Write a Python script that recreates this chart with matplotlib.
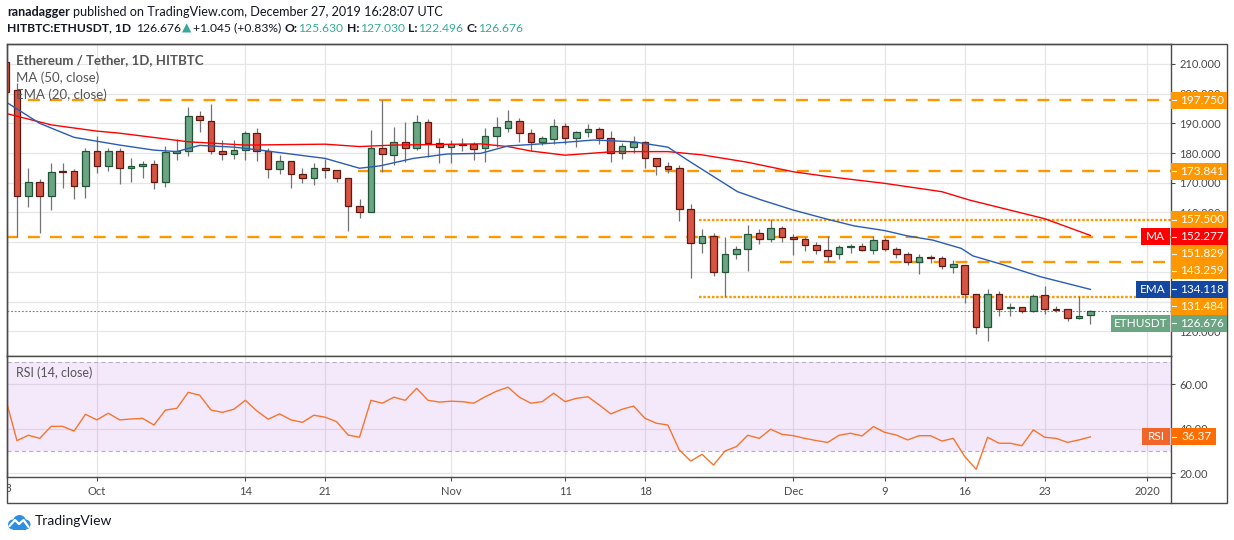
import matplotlib
matplotlib.use('Agg')
import matplotlib.pyplot as plt
from matplotlib.patches import Rectangle, Circle
from matplotlib.lines import Line2D
import numpy as np

plt.rcParams['font.family'] = ['Lato', 'DejaVu Sans']
plt.rcParams['lines.scale_dashes'] = False

W, H = 1234, 540

# ---- price data (daily candles, day 0 = Sep 23 2019) ----
opens = [210.8, 201.2, 165.7, 170.2, 165.7, 174.0, 174.0, 169.0, 180.7, 175.8,
         180.7, 174.9, 175.7, 176.2, 170.2, 180.0, 180.7, 192.6, 190.9, 180.6,
         179.6, 180.9, 186.7, 180.6, 174.5, 177.3, 172.8, 171.7, 175.1, 174.3,
         171.5, 162.3, 160.3, 181.6, 179.4, 183.8, 181.6, 190.4, 183.3, 182.2,
         183.0, 183.0, 181.6, 185.8, 188.4, 190.9, 186.7, 183.6, 184.6, 189.1,
         185.0, 187.0, 188.0, 185.0, 179.9, 182.2, 183.6, 178.3, 175.8, 174.9,
         161.1, 149.6, 152.0, 140.1, 145.9, 147.6, 153.0, 151.0, 154.7, 151.7,
         151.0, 149.0, 147.3, 145.9, 148.3, 148.7, 147.3, 150.7, 147.6, 145.9,
         143.4, 145.0, 144.7, 141.7, 142.3, 132.6, 121.6, 132.6, 127.7, 128.1,
         126.7, 132.2, 127.5, 127.4, 124.6, 125.630]
highs = [213.0, 203.5, 175.1, 171.3, 176.6, 176.6, 174.7, 181.6, 185.9, 181.6,
         181.6, 178.4, 177.2, 177.7, 182.5, 184.8, 195.6, 194.2, 196.4, 184.4,
         184.4, 187.5, 188.6, 181.6, 179.3, 177.3, 175.0, 176.6, 178.1, 174.3,
         171.5, 164.4, 187.8, 197.9, 188.9, 190.5, 192.8, 191.6, 185.0, 184.4,
         185.2, 183.9, 188.4, 192.3, 194.5, 191.7, 188.0, 185.6, 191.6, 190.2,
         187.5, 189.9, 188.7, 187.3, 183.5, 185.8, 184.1, 178.3, 177.1, 176.0,
         162.9, 154.4, 153.0, 151.6, 148.8, 155.8, 154.4, 157.7, 155.4, 152.7,
         151.7, 150.1, 152.1, 149.1, 149.5, 149.6, 152.1, 151.4, 148.3, 146.6,
         146.1, 145.7, 145.2, 143.9, 142.3, 132.6, 134.2, 133.6, 129.4, 128.2,
         132.6, 135.1, 128.5, 127.4, 131.9, 127.030]
lows = [199.5, 151.9, 162.0, 153.1, 160.8, 168.2, 164.4, 165.0, 173.3, 173.9,
        169.5, 170.2, 171.5, 167.8, 168.7, 177.7, 179.0, 187.0, 179.6, 177.7,
        178.0, 177.7, 177.3, 171.7, 172.8, 168.4, 169.8, 169.3, 171.7, 170.4,
        153.8, 158.0, 160.3, 173.7, 176.0, 177.0, 181.0, 178.8, 176.8, 176.6,
        180.7, 177.8, 177.0, 182.0, 187.2, 183.8, 180.6, 182.7, 182.9, 182.9,
        182.0, 185.3, 182.9, 177.1, 178.0, 179.9, 174.9, 172.7, 173.3, 157.2,
        138.1, 146.3, 138.7, 131.7, 144.3, 140.4, 149.4, 150.2, 149.9, 145.7,
        146.9, 146.1, 143.4, 144.3, 146.3, 146.9, 146.1, 146.9, 144.6, 142.3,
        139.4, 143.1, 141.0, 139.6, 129.4, 119.1, 116.8, 125.1, 125.1, 126.2,
        126.4, 125.7, 126.4, 123.4, 124.0, 122.496]
closes = [200.7, 165.7, 170.2, 165.7, 173.5, 173.5, 169.0, 180.7, 175.8, 180.7,
          175.0, 175.5, 176.3, 170.2, 180.3, 180.6, 192.6, 191.1, 180.6, 179.6,
          180.9, 186.7, 180.6, 174.5, 177.3, 172.8, 171.7, 175.1, 174.4, 171.5,
          162.3, 160.3, 181.6, 179.6, 183.6, 181.6, 190.4, 183.3, 182.2, 182.9,
          182.8, 181.3, 185.8, 188.7, 190.9, 186.7, 183.6, 185.0, 189.1, 185.0,
          187.0, 188.1, 185.0, 179.9, 182.4, 183.6, 178.3, 175.8, 174.5, 161.1,
          149.6, 152.0, 140.1, 145.9, 147.6, 152.7, 151.0, 154.7, 151.7, 151.0,
          149.0, 147.3, 145.5, 148.3, 148.7, 147.3, 150.7, 147.6, 145.9, 143.4,
          144.9, 144.8, 141.9, 142.7, 132.6, 121.6, 132.6, 127.6, 127.9, 126.7,
          131.9, 127.4, 127.3, 124.5, 125.2, 126.676]
days = np.arange(len(closes))

# moving averages
ma_days = [0, 4, 8, 10, 16, 21, 28, 31, 34, 41.6, 44, 46, 49, 53.3, 58, 61, 65,
           69, 72, 77, 82, 84.4, 91, 95]
ma_vals = [193.4, 189.5, 187.4, 186.7, 183.8, 182.7, 183.0, 182.2, 182.7, 183.1,
           182.2, 180.7, 179.3, 180.5, 180.5, 179.4, 176.9, 173.7, 172.1, 169.8,
           167.0, 164.2, 157.9, 152.277]
ema_days = [0, 3, 6, 10, 13, 15, 17, 20, 22.3, 28, 31, 32.8, 35.7, 38.7, 41.6, 44,
            48.9, 51.5, 55, 58, 59.7, 62, 64.1, 66.2, 69, 72, 74.3, 77, 79, 81.2,
            83.7, 84.7, 87.1, 90.6, 95]
ema_vals = [197.3, 190.0, 185.3, 182.7, 181.0, 180.5, 182.6, 182.0, 181.0, 178.2,
            174.9, 175.7, 178.2, 179.7, 179.9, 182.4, 183.6, 184.4, 183.8, 182.0,
            177.7, 172.1, 167.0, 164.2, 160.8, 157.7, 155.5, 153.9, 152.1, 150.7,
            147.9, 145.4, 142.7, 138.4, 134.118]

rsi = [53.7, 34.7, 37.1, 35.7, 41.1, 41.1, 39.0, 46.5, 44.0, 47.0,
       44.0, 44.4, 44.7, 41.7, 48.4, 49.2, 56.4, 55.1, 48.4, 47.4,
       48.8, 52.8, 48.1, 44.3, 46.7, 44.0, 42.9, 46.1, 45.2, 43.2,
       37.2, 36.2, 52.8, 51.5, 54.2, 52.8, 58.2, 52.8, 52.0, 52.4,
       52.2, 51.5, 54.4, 56.9, 58.7, 54.2, 51.5, 52.2, 56.0, 52.2,
       53.7, 54.4, 50.7, 46.7, 48.8, 50.2, 44.7, 42.5, 41.7, 30.5,
       25.5, 28.5, 23.7, 30.0, 32.0, 37.1, 35.7, 39.8, 37.5, 36.9,
       35.7, 34.7, 33.9, 37.1, 38.0, 36.8, 41.0, 38.4, 37.2, 35.0,
       36.9, 36.9, 34.5, 35.7, 27.5, 21.8, 36.2, 33.5, 33.5, 32.4,
       39.5, 36.2, 35.7, 33.9, 35.0, 36.37]

# horizontal levels drawn on the chart
level_prices = [197.750, 173.841, 157.500, 151.829, 143.259, 131.484]
level_starts = [2.0, 30.9, 60.75, 0.0, 67.8, 60.75]
level_dotted = [False, False, True, False, False, True]

date_ticks = [8, 21, 28, 39, 49, 56, 69, 77, 84, 91, 100]
date_labels = ['Oct', '14', '21', 'Nov', '11', '18', 'Dec', '9', '16', '23', '2020']
price_ticks = np.arange(120, 211, 10)
# tick labels fully hidden behind the level tags are left blank
price_hidden = [130, 140, 150]
rsi_ticks = [20, 40, 60]

last_price = 126.676

GREEN, GREEN_E = '#6BA583', '#225437'
RED, RED_E = '#D75442', '#5B1A13'
WICK = '#737375'
ORANGE = '#FF9800'
GRID = '#E6E6E6'
FRAME = '#4A4A4A'
TXT = '#4A4A4A'
TEAL = '#37A99A'


def fx(px):
    return px / W


def fy(py):
    return 1 - py / H


fig = plt.figure(figsize=(W / 100, H / 100), dpi=100)
ax = fig.add_axes([fx(7), fy(356), fx(1171) - fx(7), fy(44) - fy(356)])
rax = fig.add_axes([fx(7), fy(476.7), fx(1171) - fx(7), fy(356) - fy(476.7)], sharex=ax)

for a in (ax, rax):
    a.set_xlim(0.13, 102.06)
    a.yaxis.tick_right()
    for s in a.spines.values():
        s.set_color(FRAME)
        s.set_linewidth(1.0)
    for d in date_ticks:
        a.axvline(d, color=GRID, lw=0.9, zorder=0.5)
    a.tick_params(axis='y', direction='out', length=3, width=0.8, color=FRAME,
                  labelsize=8, labelcolor=TXT, pad=3)

ax.set_ylim(111.68, 216.73)
ax.set_yticks(price_ticks)
ax.set_yticklabels(['' if v in price_hidden else '%.3f' % v for v in price_ticks])
for v in price_ticks:
    ax.axhline(v, color=GRID, lw=0.9, zorder=0.5)
ax.tick_params(axis='x', bottom=False, labelbottom=False)

# candles
for d, o, h, l, c in zip(days, opens, highs, lows, closes):
    up = c >= o
    ax.vlines(d, l, h, color=WICK, lw=0.9, zorder=3)
    lo = min(o, c)
    hgt = max(abs(c - o), 0.35)
    ax.add_patch(Rectangle((d - 0.29, lo), 0.58, hgt,
                           facecolor=GREEN if up else RED,
                           edgecolor=GREEN_E if up else RED_E, lw=0.9, zorder=3.5))

# levels
for p, st, dotted in zip(level_prices, level_starts, level_dotted):
    ls = (0, (1.8, 1.3)) if dotted else (0, (8.6, 7.2))
    ax.hlines(p, st, 103, colors=ORANGE, lw=1.7, linestyles=ls, zorder=2)

ax.axhline(last_price, color='#4E9E72', lw=0.8, ls=(0, (1.3, 1.3)), zorder=2)

ax.plot(ma_days, ma_vals, color='#FF0000', lw=1.0, zorder=4)
ax.plot(ema_days, ema_vals, color='#2A5CB5', lw=1.0, zorder=4)

# RSI pane
rax.set_ylim(18.47, 72.72)
rax.set_yticks(rsi_ticks)
rax.set_yticklabels(['%.2f' % v for v in rsi_ticks])
for v in rsi_ticks:
    rax.axhline(v, color=GRID, lw=0.9, zorder=0.5)
rax.axhspan(30, 70, color=(0.6, 0.15, 0.85), alpha=0.1, lw=0, zorder=1)
for v in (30, 70):
    rax.axhline(v, color='#B8ADC6', lw=0.8, ls=(0, (3.0, 2.2)), zorder=1.5)
rax.plot(days, rsi, color='#F7752D', lw=1.0, zorder=3)
rax.set_xticks(date_ticks)
rax.set_xticklabels(date_labels)
rax.tick_params(axis='x', direction='out', length=3, width=0.8, color=FRAME,
                labelsize=8, labelcolor=TXT, pad=4)
t23 = rax.text(0, -0.055, '23', transform=rax.get_xaxis_transform(), ha='center',
               va='top', fontsize=8, color=TXT, clip_on=True)
t23.set_clip_path(Rectangle((fx(7.5), 0), 1, 1, transform=fig.transFigure))

# outer frame and date-axis separator
fig.add_artist(Rectangle((fx(7), fy(503)), fx(1227) - fx(7), fy(44) - fy(503),
                         transform=fig.transFigure, fill=False, ec=FRAME, lw=1.0))
fig.add_artist(Line2D([fx(1171), fx(1171)], [fy(476.7), fy(503)],
                      transform=fig.transFigure, color=FRAME, lw=1.0))


# value tags on the price axis
def tag(y_disp, text, color, x0, x1, tick=True, size=8.5):
    yb = (y_disp - 8.5) / H
    fig.add_artist(Rectangle((fx(x0), yb), fx(x1) - fx(x0), 17 / H,
                             transform=fig.transFigure, fc=color, ec='none', zorder=10))
    if tick:
        fig.add_artist(Line2D([fx(x0 + 1), fx(x0 + 5)], [y_disp / H, y_disp / H],
                              transform=fig.transFigure, color='white', lw=0.8, zorder=11))
    fig.text(fx((x0 + x1) / 2 + (3 if tick else 0)), y_disp / H, text, ha='center',
             va='center', color='white', fontsize=size, zorder=12)


right_items = [(197.750, ORANGE, None), (173.841, ORANGE, None), (157.500, ORANGE, None),
               (152.277, '#FF0000', 'MA'), (151.829, ORANGE, None), (143.259, ORANGE, None),
               (134.118, '#1347A1', 'EMA'), (131.484, ORANGE, None),
               (last_price, GREEN, 'ETHUSDT')]
tag_w = {'MA': 29, 'EMA': 34, 'ETHUSDT': 59}
prev = None
for p, col, name in sorted(right_items, key=lambda r: -r[0]):
    yd = ax.transData.transform((0, p))[1]
    if prev is not None and yd > prev - 17:
        yd = prev - 17
    prev = yd
    tag(yd, '%.3f' % p, col, 1171, 1227)
    if name:
        tag(yd, name, col, 1170 - tag_w[name], 1170, tick=False)

yd = rax.transData.transform((0, rsi[-1]))[1]
tag(yd, '%.2f' % rsi[-1], '#FF6D00', 1171, 1216)
tag(yd, 'RSI', '#F0652A', 1142, 1170, tick=False)

# legend texts in panes
fig.text(fx(16), fy(60), 'Ethereum / Tether, 1D, HITBTC', fontsize=9.5,
         fontweight='bold', color='#555555', va='center')
fig.text(fx(16), fy(78), 'MA (50, close)', fontsize=9.5, color='#555555', va='center')
fig.text(fx(16), fy(95), 'EMA (20, close)', fontsize=9.5, color='#555555', va='center')
fig.text(fx(16), fy(373), 'RSI (14, close)', fontsize=9, color='#555555', va='center')


# header
def chain(parts, x, y, size):
    first = parts[0]
    t = fig.text(fx(x), fy(y), first[0], fontsize=size, color=first[2],
                 fontweight=first[1], va='center')
    for s, wt, col, gap in parts[1:]:
        t = ax.annotate(s, xy=(1, 0.5), xycoords=t, xytext=(gap, 0),
                        textcoords='offset points', va='center', ha='left',
                        fontsize=size, color=col, fontweight=wt)


DARK = '#131722'
chain([('ranadagger', 'bold', DARK, 0),
       ('published on TradingView.com, December 27, 2019 16:28:07 UTC', 'normal', DARK, 2.4)],
      7, 12, 9.1)
chain([('HITBTC:ETHUSDT, 1D', 'bold', DARK, 0),
       ('126.676', 'normal', DARK, 3.5),
       ('\u25B2', 'normal', TEAL, 1.0),
       ('+1.045 (+0.83%)', 'normal', DARK, 1.0),
       ('O:', 'bold', DARK, 2.5), ('125.630', 'normal', TEAL, 0.3),
       ('H:', 'bold', DARK, 2.5), ('127.030', 'normal', TEAL, 0.3),
       ('L:', 'bold', DARK, 2.5), ('122.496', 'normal', TEAL, 0.3),
       ('C:', 'bold', DARK, 2.5), ('126.676', 'normal', TEAL, 0.3)],
      7, 28, 8.7)

# TradingView logo
lax = fig.add_axes([fx(7), fy(531), fx(24), 18 / H])
lax.set_xlim(0, 24)
lax.set_ylim(0, 18)
lax.axis('off')
for cx, cy, r in [(6, 6.5, 5), (12.5, 9.5, 6.5), (18.5, 6.5, 5)]:
    lax.add_patch(Circle((cx, cy), r, color='#2F8EE0', lw=0))
lax.add_patch(Rectangle((6, 1.5), 12.5, 6, color='#2F8EE0', lw=0))
lax.plot([2.5, 8, 12, 16.5, 21.5], [5, 11, 7, 11, 4], color='white', lw=1.6,
         solid_capstyle='round')
fig.text(fx(35), fy(521), 'TradingView', fontsize=10, color=DARK, va='center')

fig.savefig('out.png', dpi=100)
